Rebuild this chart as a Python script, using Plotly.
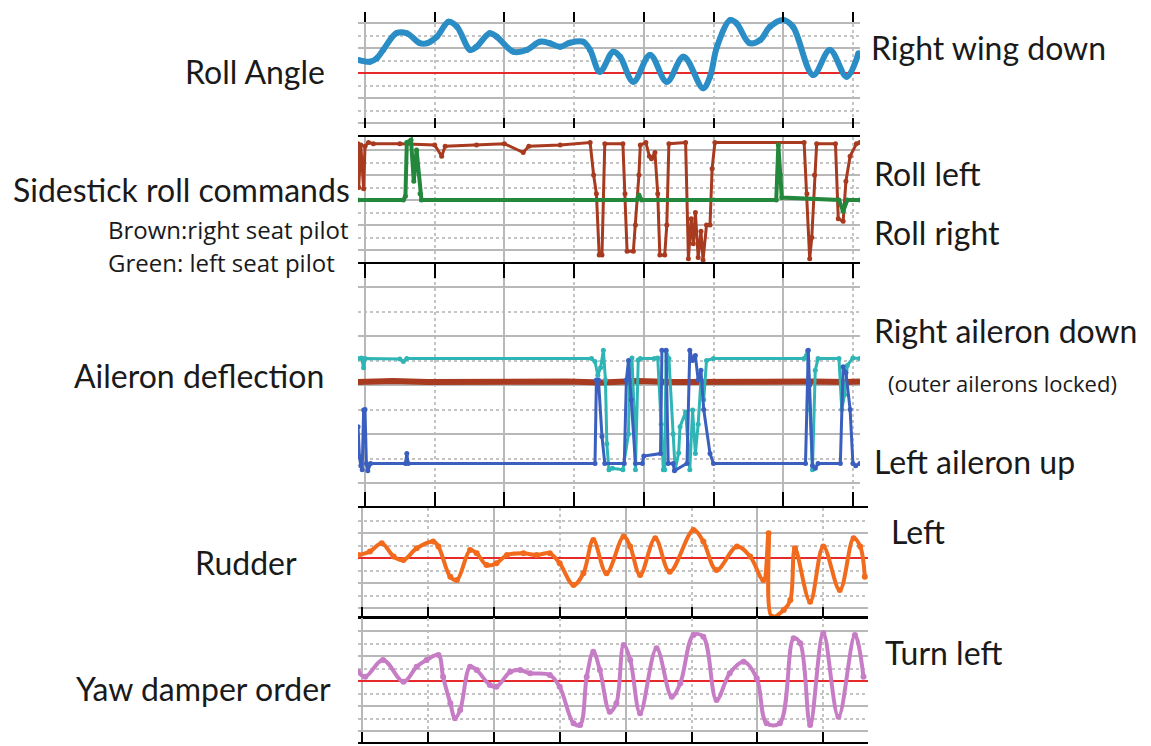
import plotly.graph_objects as go

W, H = 1151, 746

# ---------------- data (time in ticks, values in degrees / units) ----------------
roll_t = [-0.10, 0.07, 0.17, 0.26, 0.45, 0.60, 0.79, 0.89, 1.03, 1.20, 1.32, 1.51, 1.60, 1.79, 1.89,
          2.13, 2.32, 2.51, 2.65, 2.80, 2.94, 3.13, 3.23, 3.37, 3.56, 3.66, 3.85, 4.09, 4.33, 4.57,
          4.85, 4.95, 5.05, 5.24, 5.33, 5.52, 5.67, 5.81, 6.00, 6.14, 6.43, 6.67, 6.91, 7.08]
roll_deg = [5.2, 4.5, 5.9, 9.2, 15.9, 15.9, 11.9, 11.9, 14.5, 20.5, 18.5, 9.2, 10.5, 15.9, 14.5,
            8.5, 9.2, 12.5, 11.9, 10.5, 12.1, 12.5, 9.2, 0.5, 8.5, 6.5, -3.5, 7.2, -3.5, 6.5,
            -6.1, -1.5, 10.5, 21.2, 19.9, 11.9, 13.2, 18.5, 21.2, 18.5, -0.8, 9.2, -1.5, 7.9]

stick_right_t = [-0.10, -0.09, -0.06, -0.04, -0.02, 0.00, 0.05, 0.12, 0.5, 1.0, 1.1, 1.15, 1.6, 2.0,
                 2.27, 2.35, 2.8, 3.23, 3.28, 3.32, 3.36, 3.40, 3.42, 3.44, 3.70, 3.73, 3.76, 3.85,
                 3.88, 3.93, 3.95, 4.03, 4.08, 4.11, 4.16, 4.20, 4.23, 4.30, 4.33, 4.36, 4.60, 4.64,
                 4.68, 4.71, 4.74, 4.78, 4.82, 4.85, 4.90, 4.95, 4.98, 5.02, 6.30, 6.34, 6.38, 6.41,
                 6.45, 6.48, 6.75, 6.79, 6.86, 6.90, 6.96, 7.05, 7.10]
stick_right_val = [4.5, 1.0, 4.4, 2.5, 0.9, 4.3, 4.6, 4.5, 4.5, 4.4, 3.5, 4.3, 4.4, 4.5,
                   3.8, 4.3, 4.4, 4.6, 2.0, 0.5, -4.4, -4.4, 0.0, 4.5, 4.5, 0.5, -4.1, -4.1,
                   -2.0, 2.0, 4.4, 4.6, 3.5, 3.3, 3.8, 0.5, -4.4, -4.4, -2.0, 4.5, 4.6, -4.7,
                   -1.5, -3.5, -1.0, -4.6, -2.5, -4.8, -2.0, -2.0, 2.5, 4.6, 4.6, 0.5, -4.7, -3.0,
                   2.0, 4.5, 4.5, -1.5, -1.7, 1.5, 3.5, 4.5, 4.6]

stick_left_t = [-0.10, 0.55, 0.58, 0.60, 0.66, 0.70, 0.74, 0.79, 0.81, 3.90, 3.93, 3.97, 5.90, 5.93,
                5.96, 5.98, 6.80, 6.86, 6.92, 7.10]
stick_left_val = [0.0, 0.0, 0.3, 4.6, 4.8, 1.5, 4.0, 0.5, 0.0, 0.0, 0.4, 0.0, 0.0, 4.4,
                  2.0, 0.2, 0.0, -0.9, 0.0, 0.0]

ail_right_t = [-0.10, -0.05, -0.02, 0.00, 0.50, 0.55, 0.60, 3.25, 3.30, 3.34, 3.38, 3.42, 3.45, 3.47,
               3.50, 3.55, 3.70, 3.78, 3.80, 3.83, 3.86, 3.88, 3.92, 3.95, 4.15, 4.20, 4.25, 4.28,
               4.30, 4.32, 4.36, 4.42, 4.45, 4.50, 4.52, 4.60, 4.66, 4.70, 4.74, 4.78, 4.82, 4.86,
               4.90, 5.00, 6.30, 6.35, 6.38, 6.42, 6.46, 6.50, 6.80, 6.84, 6.88, 6.92, 7.00, 7.10]
ail_right_val = [5.4, 5.5, 3.5, 5.4, 5.3, 4.8, 5.4, 5.4, 4.8, 2.0, 3.5, 7.1, 1.0, -12.0,
                 -17.3, -17.0, -17.3, -10.0, 5.0, 5.5, -5.0, -17.3, 5.1, 5.4, 5.4, 5.5, -8.0, -17.3,
                 -17.3, 7.0, 5.4, -10.0, -17.3, -13.9, -8.5, -5.5, -17.3, -5.1, -14.0, -8.0, 1.0, -3.0,
                 5.0, 5.4, 5.4, 7.0, -5.0, -17.3, 3.0, 5.4, 5.4, -5.0, -2.0, 4.0, 5.5, 5.4]

ail_left_t = [-0.10, -0.08, -0.06, -0.04, -0.02, 0.00, 0.02, 0.04, 0.08, 0.58, 0.60, 0.62, 3.30, 3.32,
              3.35, 3.40, 3.44, 3.72, 3.75, 3.78, 3.82, 3.88, 3.98, 4.00, 4.24, 4.26, 4.32, 4.35,
              4.42, 4.44, 4.62, 4.66, 4.70, 4.74, 4.78, 4.82, 4.86, 4.95, 5.00, 6.32, 6.36, 6.38,
              6.42, 6.46, 6.50, 6.82, 6.86, 6.90, 6.96, 7.00, 7.04, 7.10]
ail_left_val = [-8.5, -14.6, -16.5, -17.3, -5.1, -5.0, -16.0, -17.5, -16.0, -16.0, -14.0, -16.0, -16.0, 1.0,
                1.0, -10.5, -16.0, -16.0, 1.0, 5.0, -3.0, -16.0, -16.0, -14.5, -14.0, 7.1, 7.1, -16.0,
                -16.0, -17.5, -16.0, 7.1, 5.0, 6.0, 1.0, 3.0, -5.0, -14.0, -16.0, -16.0, 7.1, 0.0,
                -16.5, -17.0, -16.0, -16.0, 3.7, 2.5, -5.0, -16.0, -16.5, -16.0]

ail_outer_t = [-0.10, 0.40, 0.90, 1.40, 1.90, 2.40, 2.90, 3.40, 3.90, 4.40, 4.90, 5.40, 5.90, 6.40, 6.90, 7.10]
ail_outer_val = [0.6, 0.8, 0.6, 0.7, 0.6, 0.8, 0.7, 0.5, 0.8, 0.6, 0.7, 0.6, 0.8, 0.7, 0.6, 0.7]

rud_t = [-0.06, 0.12, 0.30, 0.48, 0.63, 0.83, 1.08, 1.16, 1.34, 1.44, 1.64, 1.74, 1.89, 2.04, 2.20,
         2.45, 2.65, 2.85, 3.00, 3.21, 3.36, 3.51, 3.71, 3.97, 4.07, 4.22, 4.45, 4.67, 5.03, 5.18,
         5.38, 5.69, 5.89, 6.09, 6.17, 6.22, 6.40, 6.50, 6.57, 6.80, 7.00, 7.25, 7.46, 7.56, 7.63]
rud_deg = [1.3, 2.7, 6.0, 0.7, -0.7, 4.0, 6.7, 4.7, -7.4, -8.7, 3.3, 2.0, -2.7, -2.0, 1.3,
           2.0, 1.3, 2.0, -2.0, -10.7, -6.0, 7.3, -6.0, 8.7, 4.7, -6.7, 8.0, -5.4, 11.3, 6.7,
           -4.7, 4.7, 0.7, -8.7, 10.0, -23.4, -20.7, -16.7, 4.0, -17.4, 4.7, -12.7, 8.0, 4.7, -7.4]

yaw_t = [-0.06, 0.05, 0.32, 0.63, 0.83, 0.98, 1.16, 1.23, 1.34, 1.41, 1.49, 1.64, 1.74, 1.94, 2.04,
         2.25, 2.40, 2.55, 2.85, 3.00, 3.21, 3.31, 3.41, 3.51, 3.61, 3.76, 3.86, 3.97, 4.07, 4.22,
         4.47, 4.70, 4.83, 5.03, 5.18, 5.38, 5.58, 5.79, 5.99, 6.14, 6.34, 6.55, 6.65, 6.80, 7.00,
         7.23, 7.48, 7.61]
yaw_val = [3.7, 1.7, 8.4, -0.3, 5.7, 8.4, 10.4, 1.7, -8.9, -14.9, -11.6, 5.7, 4.4, -1.6, -2.3,
           3.7, 4.4, 3.1, 2.4, -2.3, -16.9, -17.6, 1.7, 11.7, 4.4, -12.3, -8.9, 14.4, 8.4, -12.9,
           13.1, -6.3, -0.9, 18.4, 17.7, -7.6, 3.1, 7.7, 1.1, -16.9, -16.9, 17.1, 15.1, -17.6, 19.1,
           -14.3, 18.4, 1.7]

left_labels = ["Roll Angle", "Sidestick roll commands", "Aileron deflection", "Rudder", "Yaw damper order"]
right_labels = ["Right wing down", "Roll left", "Roll right", "Right aileron down",
                "Left aileron up", "Left", "Turn left"]
pilot_notes = ["Brown:right seat pilot", "Green: left seat pilot"]
aileron_note = "(outer ailerons locked)"

# ---------------- colours ----------------
C_ROLL = "#2b8dc6"
C_BROWN = "#a73a1f"
C_GREEN = "#23873c"
C_CYAN = "#2fb5b5"
C_BLUE = "#3b5fbf"
C_RUD = "#f26b1d"
C_YAW = "#c77dc6"
C_RED = "#e62a2a"


def px(x):
    return x / W


def py(y):
    return 1 - y / H


fig = go.Figure()


def add(x, y, color, lw, ms, ax, shape="linear", smooth=None):
    line = dict(color=color, width=lw, shape=shape)
    if smooth is not None:
        line["smoothing"] = smooth
    fig.add_trace(go.Scatter(x=x, y=y, mode="lines+markers", line=line,
                             marker=dict(size=ms, color=color),
                             xaxis="x" + ax, yaxis="y" + ax, showlegend=False,
                             hoverinfo="skip"))


add(roll_t, roll_deg, C_ROLL, 6, 6, "", "spline", 1.0)
add(stick_right_t, stick_right_val, C_BROWN, 3, 5, "2")
add(stick_left_t, stick_left_val, C_GREEN, 4, 5, "2")
add(ail_outer_t, ail_outer_val, C_BROWN, 6, 4, "3")
add(ail_right_t, ail_right_val, C_CYAN, 3, 5, "3")
add(ail_left_t, ail_left_val, C_BLUE, 3, 5, "3")
add(rud_t, rud_deg, C_RUD, 4, 6, "4", "spline", 1.0)
add(yaw_t, yaw_val, C_YAW, 4, 6, "5", "spline", 1.0)

GRID = "#b8b8b8"
MINOR = "#c4c4c4"


def xaxis(dom_px, rng, anchor, ticks, ticklen, showline):
    return dict(domain=[px(dom_px[0]), px(dom_px[1])], range=rng, anchor=anchor,
                tick0=0, dtick=2, showgrid=True, gridcolor=GRID, gridwidth=1.5,
                ticks=ticks, ticklen=ticklen, tickwidth=2, tickcolor="black",
                minor=dict(dtick=1, tick0=0, showgrid=True, gridcolor=MINOR, griddash="dot",
                           gridwidth=1.5, ticks=ticks, ticklen=ticklen, tickwidth=2,
                           tickcolor="black"),
                showticklabels=False, zeroline=False, showline=showline,
                linecolor="black", linewidth=2, mirror="ticks" if not showline else True,
                fixedrange=True)


def yaxis(dom_px, rng, anchor, major, red_zero):
    return dict(domain=[py(dom_px[1]), py(dom_px[0])], range=rng, anchor=anchor,
                tick0=0, dtick=major, showgrid=True, gridcolor=GRID, gridwidth=1.5,
                minor=dict(dtick=major / 2, tick0=0, showgrid=True, gridcolor=MINOR,
                           griddash="dot", gridwidth=1.5),
                showticklabels=False, ticks="",
                zeroline=red_zero, zerolinecolor=C_RED, zerolinewidth=2,
                showline=False, fixedrange=True)


TOPX = (358, 860)
TOPR = [(358 - 365) / 69.7, (860 - 365) / 69.7]
BOTX = (358, 868)
BOTR = [(358 - 362) / 65.9, (868 - 362) / 65.9]

p1 = (12, 128)
p2 = (137, 262)
p3 = (264, 506)
p4 = (508, 617)
p5 = (618, 742)

layout = dict(
    width=W, height=H, margin=dict(l=0, r=0, t=0, b=0),
    paper_bgcolor="white", plot_bgcolor="white", showlegend=False,
    xaxis=xaxis(TOPX, TOPR, "y", "inside", 10, False),
    yaxis=yaxis(p1, [(73 - 128) / 2.5, (73 - 12) / 2.5], "x", 10, True),
    xaxis2=xaxis(TOPX, TOPR, "y2", "outside", 12, True),
    yaxis2=yaxis(p2, [(200 - 262) / 12.5, (200 - 137) / 12.5], "x2", 2, False),
    xaxis3=xaxis(TOPX, TOPR, "y3", "inside", 14, False),
    yaxis3=yaxis(p3, [(385 - 506) / 4.9, (385 - 264) / 4.9], "x3", 10, False),
    xaxis4=xaxis(BOTX, BOTR, "y4", "inside", 10, True),
    yaxis4=yaxis(p4, [(558.3 - 617) / 2.5, (558.3 - 508) / 2.5], "x4", 10, True),
    xaxis5=xaxis(BOTX, BOTR, "y5", "inside", 10, True),
    yaxis5=yaxis(p5, [(681 - 742) / 2.5, (681 - 618) / 2.5], "x5", 10, True),
)
fig.update_layout(**layout)

BIG = dict(family="Lato, 'Open Sans', sans-serif", size=32, color="#1a1a1a")
SMALL = dict(family="'Open Sans', sans-serif", size=24, color="#1a1a1a")
NOTE = dict(family="'Open Sans', sans-serif", size=22, color="#1a1a1a")

ann = []
left_pos = [(255, 72), (181, 190), (199, 375), (246, 562), (203, 688)]
for txt, (x, y) in zip(left_labels, left_pos):
    ann.append(dict(text=txt, x=px(x), y=py(y), xref="paper", yref="paper",
                    xanchor="center", yanchor="middle", showarrow=False, font=BIG,
                    borderpad=0))
right_pos = [(870, 47), (873, 173), (873, 232), (873, 330), (873, 461), (890, 531), (884, 652)]
for txt, (x, y) in zip(right_labels, right_pos):
    ann.append(dict(text=txt, x=px(x), y=py(y), xref="paper", yref="paper",
                    xanchor="left", yanchor="middle", showarrow=False, font=BIG,
                    borderpad=0))
for txt, (x, y) in zip(pilot_notes, [(107, 229), (107, 262)]):
    ann.append(dict(text=txt, x=px(x), y=py(y), xref="paper", yref="paper",
                    xanchor="left", yanchor="middle", showarrow=False, font=SMALL,
                    borderpad=0))
ann.append(dict(text=aileron_note, x=px(887), y=py(383), xref="paper", yref="paper",
                xanchor="left", yanchor="middle", showarrow=False, font=NOTE, borderpad=0))
fig.update_layout(annotations=ann)

fig.write_html("out.html", config={"displayModeBar": False})

# remove the default page margin so the figure sits at the window origin
with open("out.html", encoding="utf-8") as f:
    page = f.read()
page = page.replace("<head>", "<head><style>html,body{margin:0;padding:0;overflow:hidden;}</style>", 1)
with open("out.html", "w", encoding="utf-8") as f:
    f.write(page)
